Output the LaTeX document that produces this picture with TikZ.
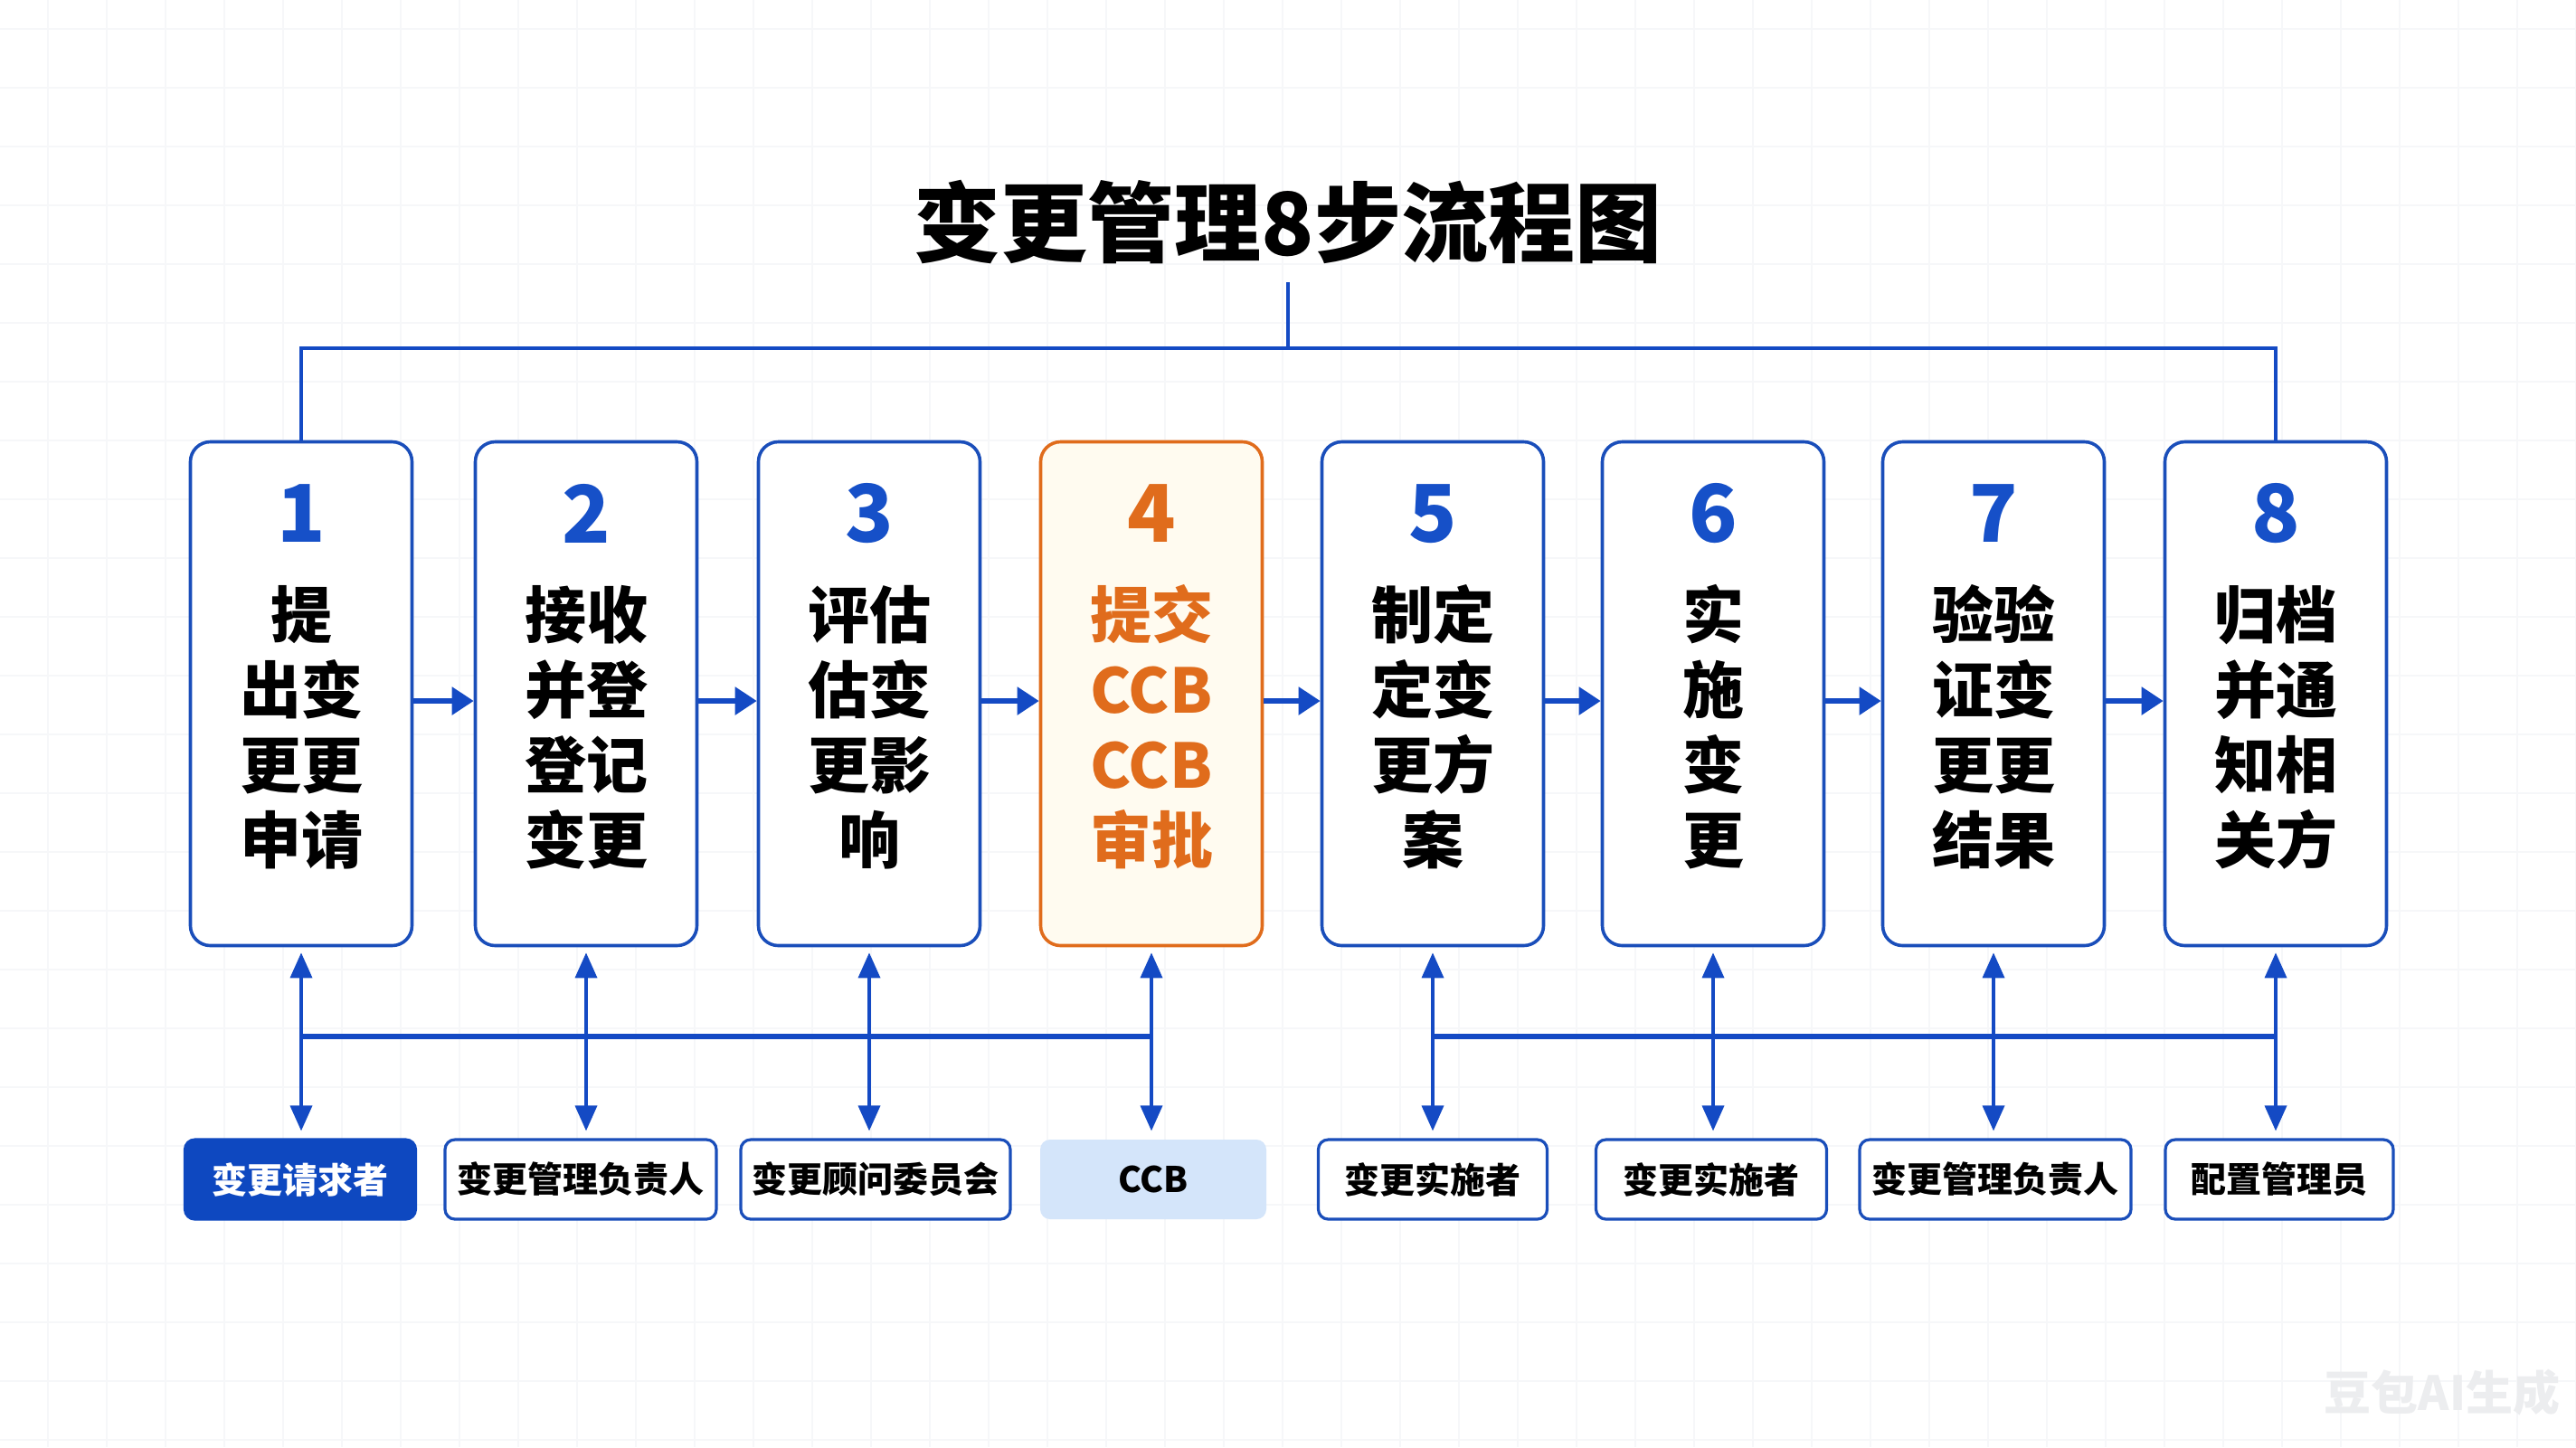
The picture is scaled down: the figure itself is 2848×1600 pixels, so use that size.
\documentclass[tikz,border=0pt]{standalone}
\usepackage{fontspec}
\setmainfont{Noto Sans CJK SC}
\usetikzlibrary{arrows.meta}
\definecolor{lineblue}{RGB}{20,74,196}
\definecolor{boxblue}{RGB}{26,78,186}
\definecolor{numblue}{RGB}{22,80,200}
\definecolor{accorange}{RGB}{224,108,28}
\definecolor{accfill}{RGB}{255,251,240}
\definecolor{rolefill}{RGB}{14,72,192}
\definecolor{ccbfill}{RGB}{212,229,250}
\definecolor{gridc}{RGB}{246,247,249}
\definecolor{wmark}{RGB}{236,237,239}
\begin{document}
\begin{tikzpicture}[x=0.25pt,y=-0.25pt,
  stepbox/.style={draw=boxblue, line width=0.9pt, rounded corners=5.5pt, fill=white,
    minimum width=61.25pt, minimum height=139.25pt, inner sep=0pt},
  accbox/.style={stepbox, draw=accorange, fill=accfill},
  num/.style={font=\fontsize{22}{24}\selectfont\bfseries, text=numblue, inner sep=0pt},
  lbl/.style={font=\fontsize{17}{20.75}\selectfont\bfseries, align=center, text=black, inner sep=0pt},
  role/.style={draw=boxblue, line width=0.8pt, rounded corners=2.75pt, fill=white,
    minimum height=22pt, inner sep=0pt, font=\fontsize{9.75}{10}\selectfont\bfseries, text=black},
  harrow/.style={draw=lineblue, line width=1.35pt, -{Triangle[length=6pt,width=7.5pt]}},
  varrow/.style={draw=lineblue, line width=0.9pt, {Triangle[length=7pt,width=6pt]}-{Triangle[length=7pt,width=6pt]}},
  bus/.style={draw=lineblue, line width=1.3pt},
  topline/.style={draw=lineblue, line width=1.2pt}
]
\useasboundingbox (0,0) rectangle (2848,1600);
\fill[white] (0,0) rectangle (2848,1600);
% faint grid
\foreach \gx in {53,118,...,2848} \draw[gridc, line width=0.3pt] (\gx,0) -- (\gx,1600);
\foreach \gy in {32,97,...,1600} \draw[gridc, line width=0.3pt] (0,\gy) -- (2848,\gy);

% title
\node[font=\fontsize{24}{26}\selectfont\bfseries, text=black] (title) at (1424,245) {变更管理8步流程图};
\coordinate (tstem) at (1424,312);
\coordinate (topbus) at (0,385);
\coordinate (botbus) at (0,1146);

% step boxes
\node[stepbox] (b1) at (333,767) {};
\node[stepbox] (b2) at (648,767) {};
\node[stepbox] (b3) at (961,767) {};
\node[accbox]  (b4) at (1273,767) {};
\node[stepbox] (b5) at (1584,767) {};
\node[stepbox] (b6) at (1894,767) {};
\node[stepbox] (b7) at (2204,767) {};
\node[stepbox] (b8) at (2516,767) {};

\node[num] (n1) at (333,568) {1};
\node[num] (n2) at (648,568) {2};
\node[num] (n3) at (961,568) {3};
\node[num, text=accorange] (n4) at (1273,568) {4};
\node[num] (n5) at (1584,568) {5};
\node[num] (n6) at (1894,568) {6};
\node[num] (n7) at (2204,568) {7};
\node[num] (n8) at (2516,568) {8};

\node[lbl] (l1) at (333,804) {提\\出变\\更更\\申请};
\node[lbl] (l2) at (648,804) {接收\\并登\\登记\\变更};
\node[lbl] (l3) at (961,804) {评估\\估变\\更影\\响};
\node[lbl, text=accorange] (l4) at (1273,804) {提交\\CCB\\CCB\\审批};
\node[lbl] (l5) at (1584,804) {制定\\定变\\更方\\案};
\node[lbl] (l6) at (1894,804) {实\\施\\变\\更};
\node[lbl] (l7) at (2204,804) {验验\\证变\\更更\\结果};
\node[lbl] (l8) at (2516,804) {归档\\并通\\知相\\关方};

% top connector
\draw[draw=lineblue, line width=0.9pt] (tstem) -- (tstem |- topbus);
\draw[topline] (b1.north) -- (b1.north |- topbus) -- (b8.north |- topbus) -- (b8.north);

% horizontal arrows
\foreach \a/\b in {b1/b2,b2/b3,b3/b4,b4/b5,b5/b6,b6/b7,b7/b8}
  \draw[harrow] ([yshift=-2pt]\a.east) -- ([yshift=-2pt]\b.west);

% role boxes
\node[role, draw=rolefill, fill=rolefill, text=white, minimum width=63.75pt] (r1) at (332,1304) {变更请求者};
\node[role, minimum width=75pt] (r2) at (642,1304) {变更管理负责人};
\node[role, minimum width=74.5pt] (r3) at (968,1304) {变更顾问委员会};
\node[role, draw=none, fill=ccbfill, minimum width=62.5pt] (r4) at (1275,1304) {CCB};
\node[role, minimum width=63.25pt] (r5) at (1584,1304) {变更实施者};
\node[role, minimum width=63.75pt] (r6) at (1892,1304) {变更实施者};
\node[role, minimum width=75pt] (r7) at (2206,1304) {变更管理负责人};
\node[role, minimum width=63pt] (r8) at (2520,1304) {配置管理员};

% bus lines
\draw[bus] (b1.south |- botbus) -- (b4.south |- botbus);
\draw[bus] (b5.south |- botbus) -- (b8.south |- botbus);

% vertical double arrows
\foreach \i in {1,...,8}
  \draw[varrow] ([yshift=-1.5pt]b\i.south) -- ([yshift=2pt]b\i.south |- r\i.north);

% watermark
\node[font=\fontsize{13}{14}\selectfont\bfseries, text=wmark] (wm) at (2700,1540) {豆包AI生成};
\end{tikzpicture}
\end{document}
